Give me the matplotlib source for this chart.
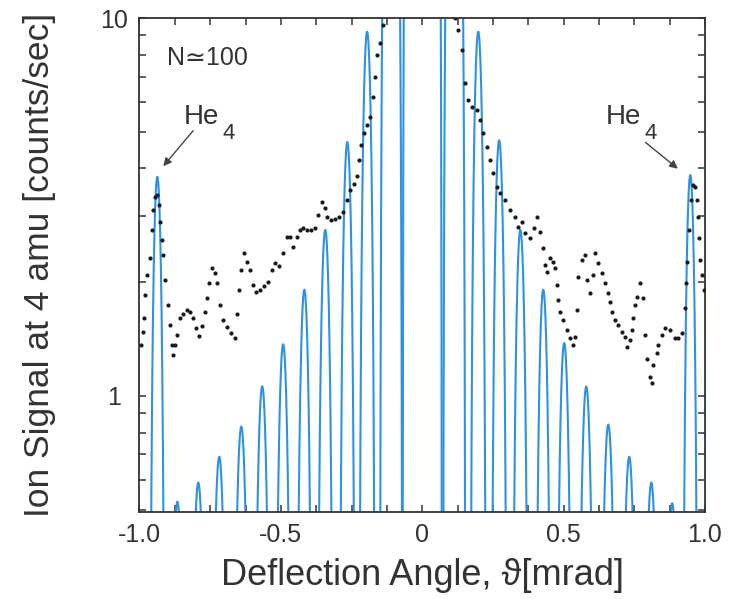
import numpy as np
import matplotlib
matplotlib.use("Agg")
import matplotlib.pyplot as plt
from matplotlib.ticker import MultipleLocator, LogLocator, NullFormatter

plt.rcParams['font.family'] = ['Liberation Sans', 'DejaVu Sans']
plt.rcParams['axes.unicode_minus'] = False

# ---- theory curve (blue): diffraction peaks ----
peak_x = [-0.937, -0.866, -0.792, -0.718, -0.640, -0.566, -0.492, -0.417,
          -0.343, -0.265, -0.195, -0.110, 0.0,
          0.113, 0.198, 0.272, 0.347, 0.428, 0.502, 0.580, 0.658,
          0.732, 0.810, 0.884, 0.948]
peak_h = [3.8, 0.525, 0.59, 0.69, 0.83, 1.06, 1.37, 1.91,
          2.75, 4.7, 9.2, 100.0, 1000.0,
          100.0, 9.2, 4.75, 2.75, 1.91, 1.38, 1.06, 0.84,
          0.69, 0.59, 0.52, 3.84]
peak_w = [0.028, 0.033, 0.033, 0.033, 0.033, 0.032, 0.031, 0.030,
          0.030, 0.029, 0.029, 0.040, 0.070,
          0.040, 0.029, 0.029, 0.030, 0.030, 0.031, 0.032, 0.033,
          0.033, 0.033, 0.033, 0.028]

# ---- measured signal (black dots) ----
dots_x = [-0.994, -0.987, -0.983, -0.980, -0.973, -0.962, -0.955, -0.951, -0.944, -0.937,
          -0.930, -0.927, -0.920, -0.916, -0.909, -0.898, -0.891, -0.884, -0.881, -0.874,
          -0.866, -0.856, -0.845, -0.831, -0.821, -0.810, -0.799, -0.789, -0.778, -0.767,
          -0.760, -0.753, -0.743, -0.732, -0.725, -0.714, -0.704, -0.690, -0.676, -0.661,
          -0.654, -0.647, -0.640, -0.630, -0.619, -0.608, -0.598, -0.587, -0.573, -0.559,
          -0.545, -0.531, -0.520, -0.506, -0.492, -0.477, -0.467, -0.456, -0.442, -0.431,
          -0.421, -0.407, -0.393, -0.378, -0.368, -0.354, -0.343, -0.336, -0.322, -0.308,
          -0.294, -0.279, -0.265, -0.255, -0.240, -0.230, -0.223, -0.216, -0.205, -0.195,
          -0.184, -0.173, -0.166, -0.159, -0.149, -0.138,
          0.117, 0.127, 0.141, 0.152, 0.163, 0.177, 0.195, 0.205, 0.216, 0.230,
          0.240, 0.251, 0.265, 0.276, 0.294, 0.311, 0.329, 0.340, 0.354, 0.364,
          0.382, 0.396, 0.407, 0.417, 0.428, 0.435, 0.442, 0.453, 0.463, 0.470,
          0.477, 0.481, 0.488, 0.499, 0.513, 0.523, 0.534, 0.541, 0.548, 0.552,
          0.566, 0.576, 0.584, 0.594, 0.605, 0.612, 0.622, 0.637, 0.647, 0.658,
          0.665, 0.672, 0.683, 0.693, 0.707, 0.718, 0.725, 0.736, 0.743, 0.746,
          0.753, 0.760, 0.771, 0.782, 0.789, 0.796, 0.806, 0.813, 0.817, 0.831,
          0.835, 0.849, 0.859, 0.877, 0.895, 0.905, 0.920, 0.930, 0.934, 0.937,
          0.944, 0.951, 0.958, 0.966, 0.973, 0.976, 0.980, 0.983, 0.990, 0.997]
dots_y = [1.36, 1.48, 1.61, 1.85, 2.09, 2.32, 2.75, 3.10, 3.36, 3.40,
          3.20, 2.89, 2.59, 2.36, 2.03, 1.74, 1.54, 1.36, 1.28, 1.36,
          1.45, 1.61, 1.65, 1.69, 1.67, 1.61, 1.51, 1.44, 1.53, 1.67,
          1.82, 1.99, 2.18, 2.12, 1.99, 1.74, 1.59, 1.52, 1.47, 1.42,
          1.65, 1.91, 2.15, 2.39, 2.26, 2.15, 1.97, 1.88, 1.91, 1.95,
          2.00, 2.15, 2.25, 2.21, 2.39, 2.63, 2.63, 2.48, 2.63, 2.75,
          2.78, 2.75, 2.75, 2.78, 3.01, 3.26, 3.14, 2.98, 2.92, 2.94,
          2.98, 3.07, 3.30, 3.51, 3.64, 3.82, 4.21, 4.61, 4.96, 5.21,
          5.47, 6.18, 6.98, 7.98, 8.59, 9.58,
          10.0, 9.30, 8.23, 6.73, 6.07, 5.82, 5.71, 5.37, 4.96, 4.56,
          4.21, 3.89, 3.57, 3.44, 3.30, 3.10, 2.98, 2.80, 2.89, 2.70,
          2.62, 2.78, 2.98, 2.72, 2.46, 2.22, 2.13, 2.32, 2.26, 2.18,
          1.97, 1.79, 1.67, 1.59, 1.49, 1.42, 1.36, 1.43, 1.69, 2.06,
          2.29, 2.36, 2.03, 1.87, 2.09, 2.39, 2.25, 2.12, 1.99, 1.87,
          1.77, 1.67, 1.59, 1.54, 1.48, 1.43, 1.35, 1.41, 1.49, 1.61,
          1.74, 1.83, 1.99, 1.82, 1.45, 1.25, 1.12, 1.08, 1.21, 1.30,
          1.36, 1.45, 1.51, 1.49, 1.42, 1.42, 1.47, 1.71, 1.99, 2.26,
          2.75, 3.30, 3.61, 3.57, 3.30, 2.98, 2.62, 2.29, 2.09, 1.91]

xtick_vals = [-1.0, -0.5, 0.0, 0.5, 1.0]
xtick_labels = ['-1.0', '-0.5', '0', '0.5', '1.0']
ytick_vals = [1, 10]
ytick_labels = ['1', '10']

BLUE = '#2e92e2'
INK = '#333333'

fig = plt.figure(figsize=(7.33, 5.99), dpi=100)
ax = fig.add_axes([0.1903, 0.1452, 0.7715, 0.8247])

for c, h, w in zip(peak_x, peak_h, peak_w):
    xs = np.linspace(c - w, c + w, 161)
    ys = h * np.cos(np.pi * (xs - c) / (2 * w)) ** 2 + 1e-4
    ax.plot(xs, ys, color=BLUE, lw=1.5, zorder=2)

ax.plot(dots_x, dots_y, 'o', ms=3.0, color='#1a1a1a', mec='none', zorder=3)

ax.set_yscale('log')
ax.set_xlim(-1.0, 1.0)
ax.set_ylim(0.493, 10)

ax.set_xticks(xtick_vals, labels=xtick_labels)
ax.xaxis.set_minor_locator(MultipleLocator(0.125))
ax.set_yticks(ytick_vals, labels=ytick_labels)
ax.yaxis.set_minor_locator(LogLocator(base=10, subs=np.arange(2, 10)))
ax.yaxis.set_minor_formatter(NullFormatter())

ax.tick_params(which='both', direction='in', top=True, right=True,
               length=5, width=1.1, color=INK, labelcolor=INK, labelsize=18)
ax.tick_params(axis='x', pad=8)
ax.tick_params(axis='y', pad=18)
for lab in ax.get_yticklabels():
    lab.set_horizontalalignment('center')

for s in ax.spines.values():
    s.set_color(INK)
    s.set_linewidth(1.3)

ax.set_xlabel('Deflection Angle, ϑ[mrad]', fontsize=26, color=INK, labelpad=8)
ax.set_ylabel('Ion Signal at 4 amu [counts/sec]', fontsize=25.5, color=INK)
ax.yaxis.set_label_coords(-0.148, 0.5)

ax.text(0.0486, 0.905, 'N≃100', transform=ax.transAxes, fontsize=18,
        color=INK, ha='left', va='baseline')

# He4 labels with arrows
ax.text(0.078, 0.785, 'He', transform=ax.transAxes, fontsize=20, color=INK,
        ha='left', va='baseline')
ax.text(0.146, 0.755, '4', transform=ax.transAxes, fontsize=16, color=INK,
        ha='left', va='baseline')
ax.annotate('', xy=(0.042, 0.700), xycoords='axes fraction',
            xytext=(0.095, 0.772), textcoords='axes fraction',
            arrowprops=dict(arrowstyle='-|>', color='#444444', lw=1.0,
                            mutation_scale=12, shrinkA=0, shrinkB=0))

ax.text(0.825, 0.785, 'He', transform=ax.transAxes, fontsize=20, color=INK,
        ha='left', va='baseline')
ax.text(0.893, 0.755, '4', transform=ax.transAxes, fontsize=16, color=INK,
        ha='left', va='baseline')
ax.annotate('', xy=(0.952, 0.695), xycoords='axes fraction',
            xytext=(0.895, 0.748), textcoords='axes fraction',
            arrowprops=dict(arrowstyle='-|>', color='#444444', lw=1.0,
                            mutation_scale=12, shrinkA=0, shrinkB=0))

fig.savefig('out.png', dpi=100, facecolor='white')
